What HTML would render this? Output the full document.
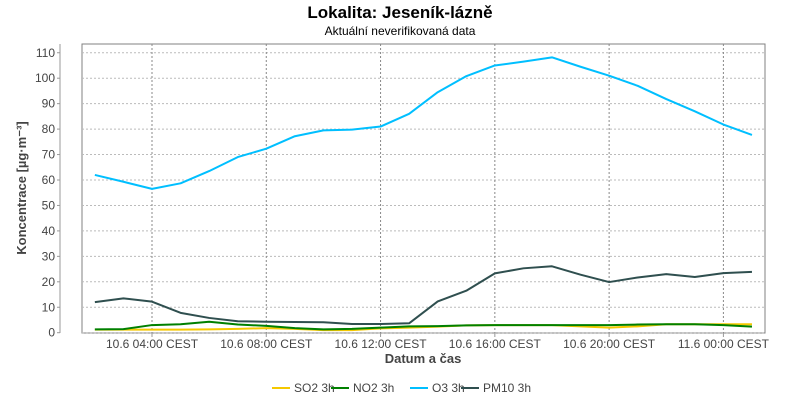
<!DOCTYPE html>
<html><head><meta charset="utf-8"><style>
body{margin:0;background:#fff;}
svg{display:block;font-family:"Liberation Sans",sans-serif;}
</style></head><body>
<svg id="chart" width="800" height="400">
<text x="400" y="18" text-anchor="middle" font-size="17" font-weight="bold" fill="#000">Lokalita: Jeseník-lázně</text>
<text x="400" y="35" text-anchor="middle" font-size="12" fill="#000">Aktuální neverifikovaná data</text>
<rect x="82" y="44" width="683" height="289" fill="#fff" stroke="#808080"/>
<g id="grid"></g><g id="axes"></g><g id="series"></g>
<text x="423" y="363" text-anchor="middle" font-size="13" font-weight="bold" fill="#444">Datum a čas</text>
<text transform="translate(26,188) rotate(-90)" text-anchor="middle" font-size="13" font-weight="bold" fill="#444">Koncentrace [µg·m⁻³]</text>
<g id="legend"></g>
</svg>
<script>
const hours=[2,3,4,5,6,7,8,9,10,11,12,13,14,15,16,17,18,19,20,21,22,23,24,25];
const so2=[1.2,1.2,1.2,1.2,1.3,1.5,1.8,1.5,1,1,1.7,2,2.4,2.9,3,3,3,2.5,2,2.5,3.3,3.3,3.3,3.3];
const no2=[1.3,1.4,3,3.3,4.3,3.2,2.7,1.8,1.3,1.5,2,2.5,2.6,2.9,3,3,3,3,3,3.2,3.3,3.3,3,2.4];
const o3=[62,59.3,56.5,58.7,63.5,69,72.3,77.2,79.5,79.8,81,86,94.5,100.8,105,106.5,108.2,104.5,101,97,91.8,87,81.8,77.7];
const pm10=[12,13.5,12.2,7.8,5.8,4.5,4.3,4.2,4.1,3.4,3.4,3.7,12.3,16.5,23.3,25.3,26.1,22.8,19.9,21.7,23,21.9,23.4,23.9];
const yTicks=[0,10,20,30,40,50,60,70,80,90,100,110];
const xTickHours=[4,8,12,16,20,24];
const xTickLabels=["10.6 04:00 CEST","10.6 08:00 CEST","10.6 12:00 CEST","10.6 16:00 CEST","10.6 20:00 CEST","11.6 00:00 CEST"];
const seriesNames=["SO2 3h","NO2 3h","O3 3h","PM10 3h"];
const seriesColors=["#f5c800","#008000","#00bfff","#2f4f4f"];
const seriesData=[so2,no2,o3,pm10];
const NS="http://www.w3.org/2000/svg";
const X=h=>152+(h-4)*28.57;
const Y=v=>332.7-v*2.545;
function mk(tag,attrs,parent){const e=document.createElementNS(NS,tag);for(const k in attrs)e.setAttribute(k,attrs[k]);document.getElementById(parent).appendChild(e);return e;}
mk('line',{x1:60,y1:44,x2:60,y2:333,stroke:'#999'},'axes');
yTicks.forEach(t=>{
 const g=mk('line',{x1:82,x2:765,y1:Y(t),y2:Y(t),stroke:'#bbb','stroke-dasharray':'2,2'},'grid');
 
 
 mk('line',{x1:57,x2:60,y1:Y(t),y2:Y(t),stroke:'#999'},'axes');
 const tx=mk('text',{x:55,y:Y(t)+4,'text-anchor':'end','font-size':12,fill:'#444'},'axes');
 tx.textContent=t;
 
 
});
xTickHours.forEach((h,i)=>{
 const g=mk('line',{x1:X(h),x2:X(h),y1:44,y2:333,stroke:'#888','stroke-dasharray':'2,2'},'grid');
 
 
 mk('line',{x1:X(h),x2:X(h),y1:333,y2:337,stroke:'#999'},'axes');
 const tx=mk('text',{x:X(h),y:348,'text-anchor':'middle','font-size':12,fill:'#444'},'axes');
 tx.textContent=xTickLabels[i];
 
 
});
seriesData.forEach((d,si)=>{
 const p=mk('polyline',{points:d.map((v,i)=>X(hours[i])+','+Y(v)).join(' '),fill:'none',stroke:seriesColors[si],'stroke-width':2,'stroke-linejoin':'round'},'series');
 
 
});
const legX=[272,331,410,461];
seriesNames.forEach((n,i)=>{
 mk('line',{x1:legX[i],x2:legX[i]+18,y1:388,y2:388,stroke:seriesColors[i],'stroke-width':2},'legend');
 const t=mk('text',{x:legX[i]+22,y:392,'font-size':12,fill:'#444'},'legend');
 t.textContent=n;
 
 
});
</script>
</body></html>
